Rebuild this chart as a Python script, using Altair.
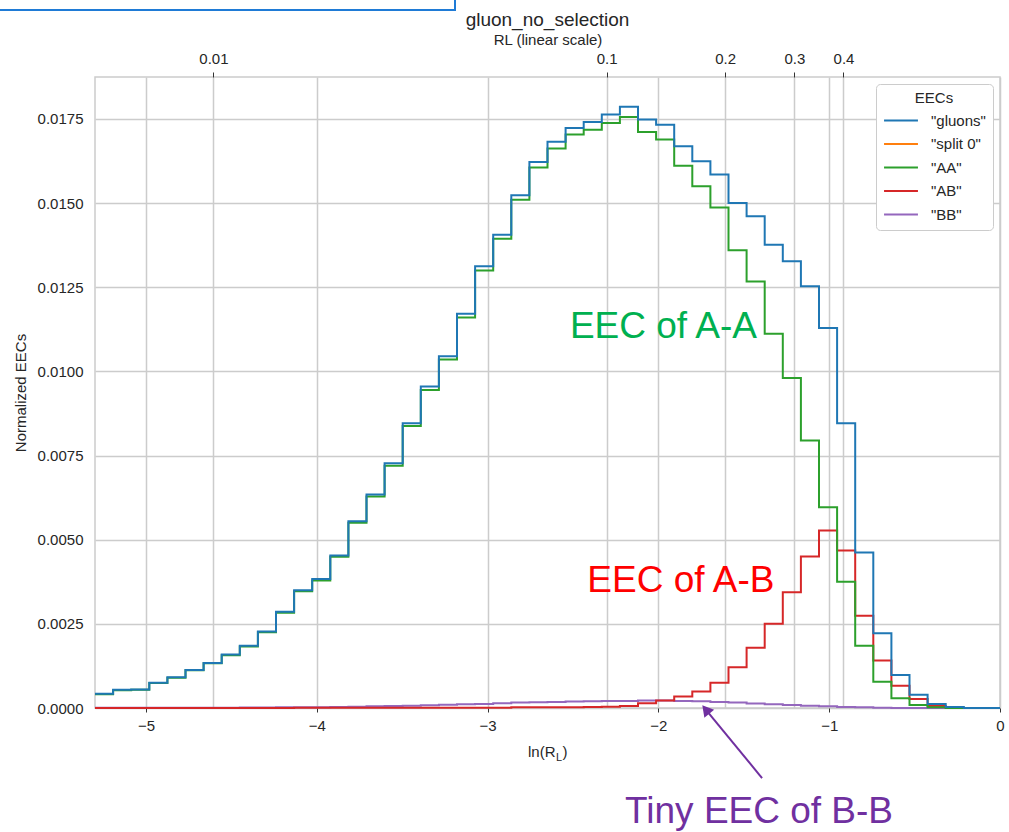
import math
import altair as alt
import pandas as pd

# ---------------- data ----------------
R_MIN = 0.005
N_BINS = 50
SERIES = ['"gluons"', '"split 0"', '"AA"', '"AB"', '"BB"']
COLORS = ["#1f77b4", "#ff7f0e", "#2ca02c", "#d62728", "#9467bd"]

gluons = [0.00042, 0.00054, 0.00055, 0.00075, 0.00091, 0.00113, 0.00134, 0.00159, 0.00185, 0.00227,
          0.00286, 0.00350, 0.00383, 0.00453, 0.00555, 0.00634, 0.00727, 0.00846, 0.00955, 0.01045,
          0.01171, 0.01312, 0.01406, 0.01523, 0.01622, 0.01682, 0.01723, 0.01741, 0.01763, 0.01786,
          0.01748, 0.01733, 0.01669, 0.01624, 0.01585, 0.01500, 0.01461, 0.01376, 0.01327, 0.01253,
          0.01129, 0.00846, 0.00462, 0.00222, 0.00098, 0.00039, 0.00012, 0.00003, 0.0, 0.0]
split0 = []  # empty selection: nothing drawn
aa = [0.00041, 0.00053, 0.00054, 0.00074, 0.00090, 0.00112, 0.00133, 0.00157, 0.00183, 0.00225,
      0.00283, 0.00347, 0.00379, 0.00449, 0.00550, 0.00628, 0.00720, 0.00838, 0.00945, 0.01035,
      0.01160, 0.01300, 0.01394, 0.01510, 0.01606, 0.01662, 0.01704, 0.01718, 0.01738, 0.01756,
      0.01711, 0.01689, 0.01611, 0.01550, 0.01487, 0.01360, 0.01267, 0.01112, 0.00980, 0.00795,
      0.00596, 0.00375, 0.00185, 0.00078, 0.00029, 0.00009, 0.00002, 0.0, 0.0, 0.0]
ab = [0.0, 0.0, 0.0, 0.0, 0.0, 0.0, 0.0, 0.0, 0.0, 0.0,
      0.0, 0.00001, 0.00001, 0.00001, 0.00001, 0.00001, 0.00001, 0.00001, 0.00001, 0.00001,
      0.00001, 0.00001, 0.00001, 0.00002, 0.00002, 0.00002, 0.00002, 0.00003, 0.00004, 0.00006,
      0.00014, 0.00022, 0.00034, 0.00049, 0.00075, 0.00121, 0.00179, 0.00250, 0.00344, 0.00450,
      0.00527, 0.00468, 0.00274, 0.00141, 0.00066, 0.00027, 0.00006, 0.00001, 0.0, 0.0]
bb = [0.000005, 0.000005, 0.000005, 0.000005, 0.000005, 0.000006, 0.00001, 0.00001, 0.000012, 0.000015,
      0.00002, 0.00002, 0.000025, 0.00003, 0.00004, 0.00005, 0.00006, 0.00007, 0.00008, 0.0001,
      0.00011, 0.00012, 0.00014, 0.00016, 0.00017, 0.00018, 0.00019, 0.0002, 0.00021, 0.00021,
      0.00022, 0.00022, 0.00021, 0.0002, 0.00018, 0.00016, 0.00013, 0.00011, 0.00009, 0.00007,
      0.00005, 0.00003, 0.00002, 0.00001, 0.0, 0.0, 0.0, 0.0, 0.0, 0.0]

bottom_ticks = [-5, -4, -3, -2, -1, 0]
top_ticks = [0.01, 0.1, 0.2, 0.3, 0.4]
y_ticks = [0.0, 0.0025, 0.005, 0.0075, 0.01, 0.0125, 0.015, 0.0175]
Y_MAX = 0.018745

chart_title = "gluon_no_selection"
ann_text = ["EEC of A-A", "EEC of A-B", "Tiny EEC of B-B"]
ann_x = [-2.518, -2.416, -2.195]
ann_y = [0.01099, 0.003458, -0.00342]
ann_color = ["#00b050", "#ff0000", "#7030a0"]

arrow_tail = [-1.393, -0.00208]
arrow_head = [-1.7225, -0.0000476]

# ---------------- layout ----------------
W, H = 905, 631
FONT = "Liberation Sans"
TXT = "#262626"
X_MIN = math.log(R_MIN)
edges = [X_MIN * (1 - k / N_BINS) for k in range(N_BINS + 1)]

x_scale = alt.Scale(domain=[X_MIN, 0], nice=False, zero=False)
y_scale = alt.Scale(domain=[0, Y_MAX], nice=False, zero=False)
color_scale = alt.Scale(domain=SERIES, range=COLORS)

legend = alt.Legend(
    title="EECs", orient="top-right", offset=7, symbolType="stroke", symbolStrokeWidth=2,
    symbolSize=1150, clipHeight=15, rowPadding=7.5, labelFontSize=15, titleFontSize=15,
    titleFontWeight="normal", titleAnchor="middle", titlePadding=7, labelOffset=12, padding=7,
    fillColor="white", strokeColor="#cccccc", cornerRadius=4, labelColor=TXT, titleColor=TXT,
    labelFont=FONT, titleFont=FONT,
)

bottom_axis = alt.Axis(values=bottom_ticks, format="d", title="", grid=True, ticks=True, tickSize=4,
                       tickColor="#333333", labelPadding=6, labelFontSize=15, labelFlush=False,
                       domain=False)
left_axis = alt.Axis(values=y_ticks, format=".4f", title="Normalized EECs", grid=True, ticks=False,
                     tickSize=0, labelPadding=12, labelFontSize=15, titleFontSize=15,
                     titleFontWeight="normal", titlePadding=9, domain=False)
top_axis = alt.Axis(orient="top", values=[math.log(t) for t in top_ticks],
                    labelExpr="format(exp(datum.value), '.1~g')", title="RL (linear scale)",
                    grid=True, ticks=True, tickSize=5, tickColor="#333333", labelPadding=6,
                    titlePadding=4, labelFontSize=15, titleFontSize=15, titleFontWeight="normal",
                    labelFlush=False, domain=False)


def step_frame(name, vals):
    rows = [{"x": edges[k], "v": v, "s": name} for k, v in enumerate(vals)]
    if vals:
        rows.append({"x": edges[len(vals)], "v": vals[-1], "s": name})
    return pd.DataFrame(rows)


def hist_layer(name, vals, with_axes=False):
    return alt.Chart(step_frame(name, vals)).mark_line(
        interpolate="step-after", strokeWidth=2
    ).encode(
        x=alt.X("x:Q", scale=x_scale, axis=bottom_axis if with_axes else None),
        y=alt.Y("v:Q", scale=y_scale, axis=left_axis if with_axes else None),
        color=alt.Color("s:N", scale=color_scale, legend=legend),
    )


# decorative cut-off box at the top left of the picture
box = alt.Chart(pd.DataFrame({"a": [0]})).mark_rect(
    fill="white", stroke="#1f7bd6", strokeWidth=2
).encode(x=alt.value(-120), x2=alt.value(360), y=alt.value(-200), y2=alt.value(-67))

top_layer = alt.Chart(pd.DataFrame({"r": top_ticks})).transform_calculate(
    lnr="log(datum.r)"
).mark_point(opacity=0).encode(
    x=alt.X("lnr:Q", scale=x_scale, axis=top_axis),
    y=alt.value(0),
)

ann = alt.Chart(pd.DataFrame({"x": ann_x, "y": ann_y, "t": ann_text, "c": ann_color})).mark_text(
    align="left", baseline="alphabetic", fontSize=37, font=FONT
).encode(
    x=alt.X("x:Q", scale=x_scale, axis=None),
    y=alt.Y("y:Q", scale=y_scale, axis=None),
    text="t:N",
    color=alt.Color("c:N", scale=None),
)

arrow_df = pd.DataFrame({"x": [arrow_tail[0]], "y": [arrow_tail[1]],
                         "x2": [arrow_head[0]], "y2": [arrow_head[1]]})
arrow_line = alt.Chart(arrow_df).mark_rule(color="#7030a0", strokeWidth=2).encode(
    x=alt.X("x:Q", scale=x_scale, axis=None),
    y=alt.Y("y:Q", scale=y_scale, axis=None),
    x2="x2:Q", y2="y2:Q",
)
arrow_tip = alt.Chart(arrow_df).mark_point(
    shape="triangle-up", filled=True, size=160, angle=320.6, color="#7030a0", opacity=1
).encode(
    x=alt.X("x2:Q", scale=x_scale, axis=None),
    y=alt.Y("y2:Q", scale=y_scale, axis=None),
)

one = pd.DataFrame({"a": [0]})
title_mark = alt.Chart(one).mark_text(
    align="center", baseline="alphabetic", fontSize=19, font=FONT, color=TXT, text=chart_title
).encode(x=alt.value(W / 2), y=alt.value(-51))

# x axis title ln(R_L) with a subscript
xt1 = alt.Chart(one).mark_text(align="left", baseline="alphabetic", fontSize=15, font=FONT,
                               color=TXT, text="ln(R").encode(x=alt.value(433), y=alt.value(H + 49))
xt2 = alt.Chart(one).mark_text(align="left", baseline="alphabetic", fontSize=11, font=FONT,
                               color=TXT, text="L").encode(x=alt.value(461), y=alt.value(H + 53))
xt3 = alt.Chart(one).mark_text(align="left", baseline="alphabetic", fontSize=15, font=FONT,
                               color=TXT, text=")").encode(x=alt.value(467.5), y=alt.value(H + 49))

chart = alt.layer(
    box,
    hist_layer(SERIES[4], bb),
    hist_layer(SERIES[3], ab),
    hist_layer(SERIES[2], aa),
    hist_layer(SERIES[1], split0) if split0 else hist_layer(SERIES[0], gluons, with_axes=True),
    top_layer,
    ann,
    arrow_line,
    arrow_tip,
    title_mark,
    xt1, xt2, xt3,
).resolve_axis(x="independent", y="independent").properties(
    width=W,
    height=H,
    autosize=alt.AutoSizeParams(type="none"),
    padding={"left": 95, "top": 77, "right": 9, "bottom": 124},
).configure(font=FONT).configure_view(
    stroke="#cccccc", strokeWidth=1.5
).configure_axis(
    gridColor="#cccccc", gridWidth=1.5, labelColor=TXT, titleColor=TXT, labelFont=FONT, titleFont=FONT
)

chart.save("out.html", embed_options={"renderer": "svg", "actions": False})
